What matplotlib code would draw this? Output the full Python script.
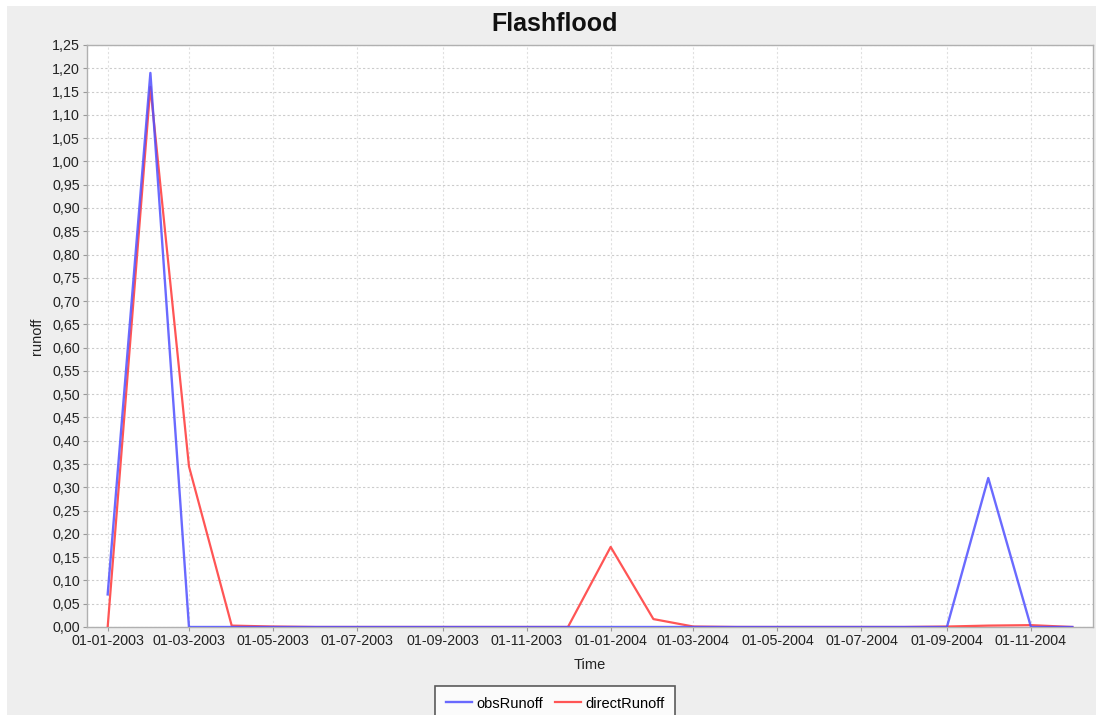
import numpy as np
import matplotlib
matplotlib.use("Agg")
import matplotlib.pyplot as plt
import matplotlib.dates as mdates
from matplotlib.patches import Rectangle
from matplotlib.ticker import FuncFormatter, MultipleLocator

plt.rcParams['font.family'] = ['Liberation Sans', 'DejaVu Sans']

# monthly runoff, Jan 2003 .. Dec 2004
months = np.arange('2003-01', '2005-01', dtype='datetime64[M]').astype('datetime64[D]')
obsRunoff = [0.07, 1.19, 0.0, 0.0, 0.0, 0.0, 0.0, 0.0, 0.0, 0.0, 0.0, 0.0,
             0.0, 0.0, 0.0, 0.0, 0.0, 0.0, 0.0, 0.0, 0.0, 0.32, 0.0, 0.0]
directRunoff = [0.0, 1.16, 0.345, 0.003, 0.001, 0.0, 0.0, 0.0, 0.0, 0.0, 0.0, 0.0,
                0.172, 0.017, 0.001, 0.0, 0.0, 0.0, 0.0, 0.0, 0.001, 0.003, 0.004, 0.0]

W, H = 1096, 715
fig = plt.figure(figsize=(W / 100, H / 100), dpi=100, facecolor='white')

# grey panel behind the chart
fig.patches.append(Rectangle((7 / W, 0), 1 - 7 / W, 1 - 6 / H, transform=fig.transFigure,
                             facecolor='#eeeeee', edgecolor='none', zorder=-10))

ax = fig.add_axes([87 / W, 1 - 627 / H, (1093 - 87) / W, (627 - 45) / H])
ax.set_facecolor('white')

x = months.astype(object)
ax.plot(x, obsRunoff, color='#5050ff', lw=1.7, alpha=0.85, label='obsRunoff', zorder=4)
ax.plot(x, directRunoff, color='#ff5555', lw=1.6, label='directRunoff', zorder=3)

ax.set_xlim(np.datetime64('2002-12-17').astype(object), np.datetime64('2004-12-16').astype(object))
ax.set_ylim(0, 1.25)

ax.yaxis.set_major_locator(MultipleLocator(0.05))
ax.yaxis.set_major_formatter(FuncFormatter(lambda v, p: f"{v:.2f}".replace('.', ',')))
ax.xaxis.set_major_locator(mdates.MonthLocator(bymonth=[1, 3, 5, 7, 9, 11]))
ax.xaxis.set_major_formatter(mdates.DateFormatter('%d-%m-%Y'))

ax.grid(True, axis='y', color='#cccccc', lw=0.8, ls=(0, (2, 2)))
ax.grid(True, axis='x', color='#e0e0e0', lw=0.8, ls=(0, (2, 2)))
ax.set_axisbelow(True)
for s in ax.spines.values():
    s.set_color('#b0b0b0')
    s.set_linewidth(1.0)
ax.tick_params(axis='both', labelsize=10.3, colors='#222222', length=3, width=0.8, pad=2)
ax.tick_params(axis='both', color='#999999')

ax.set_ylabel('runoff', fontsize=10.5, color='#222222', labelpad=6)
ax.set_xlabel('Time', fontsize=10.5, color='#222222', labelpad=7)

fig.text(555 / W, 1 - 24 / H, 'Flashflood', ha='center', va='center',
         fontsize=18, fontweight='bold', color='#111111')

leg = fig.legend(loc='upper center', bbox_to_anchor=(555 / W, 1 - 679 / H), ncol=2,
                 fontsize=10.5, frameon=True, fancybox=False, borderpad=0.7,
                 handlelength=1.8, handletextpad=0.3, columnspacing=0.8)
leg.get_frame().set_edgecolor('#333333')
leg.get_frame().set_linewidth(1.2)
leg.get_frame().set_facecolor('white')

fig.savefig('out.png', dpi=100, facecolor='white')
